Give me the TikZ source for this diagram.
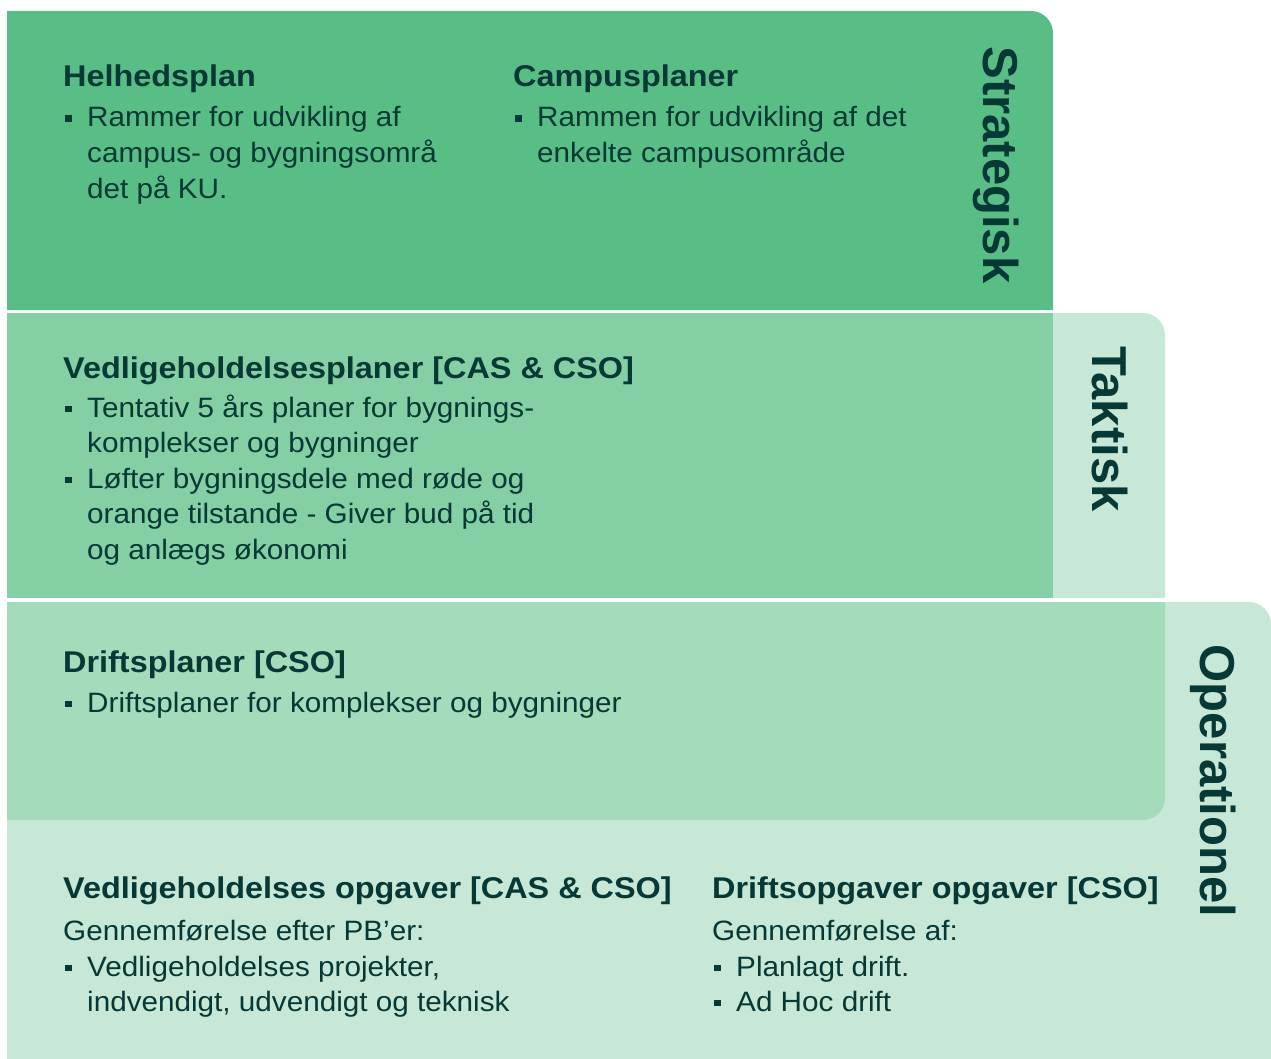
\documentclass[tikz,border=0pt]{standalone}
\usepackage{fontspec}
\setmainfont{Liberation Sans}
\newfontfamily\bodyfam{Liberation Sans}[FakeStretch=1.06]
\newfontfamily\headfam{Liberation Sans}[FakeStretch=1.08]
\definecolor{cstrat}{HTML}{59BE86}
\definecolor{ctakt}{HTML}{84CFA3}
\definecolor{cdrift}{HTML}{A3DBBB}
\definecolor{clight}{HTML}{C7E8D6}
\definecolor{ink}{HTML}{063835}
\newcommand\bul{\makebox[22pt][l]{\rule[5pt]{6.5pt}{6.5pt}}}
\tikzset{
  head/.style={anchor=base west, inner sep=0pt, text=ink, font=\headfam\bfseries\fontsize{30}{36}\selectfont},
  body/.style={anchor=base west, inner sep=0pt, text=ink, font=\bodyfam\fontsize{28}{36}\selectfont},
  side/.style={anchor=base, inner sep=0pt, rotate=-90, text=ink, font=\bfseries\fontsize{49}{56}\selectfont}
}
\begin{document}
\begin{tikzpicture}[x=1pt,y=1pt]
\useasboundingbox (0,0) rectangle (1271,-1059);
% backgrounds
\fill[clight] (7,-1059) -- (7,-602) -- (1249,-602) arc[start angle=90,end angle=0,radius=22] -- (1271,-1059) -- cycle;
\fill[clight] (1053,-598) -- (1053,-313) -- (1143,-313) arc[start angle=90,end angle=0,radius=22] -- (1165,-598) -- cycle;
\fill[ctakt] (7,-313) rectangle (1053,-598);
\fill[cstrat] (7,-310) -- (7,-11) -- (1031,-11) arc[start angle=90,end angle=0,radius=22] -- (1053,-310) -- cycle;
\fill[cdrift] (7,-602) -- (1165,-602) -- (1165,-798) arc[start angle=0,end angle=-90,radius=22] -- (7,-820) -- cycle;
% side labels
\node[side] (lstrat) at (983,-165) {Strategisk};
\node[side] (ltakt) at (1092,-429) {Taktisk};
\node[side] (lop) at (1200,-781) {Operationel};
% Strategisk
\node[head] (h1) at (63,-87) {Helhedsplan};
\node[body] (h1a) at (65,-127) {\bul Rammer for udvikling af};
\node[body] (h1b) at (87,-163) {campus- og bygningsområ};
\node[body] (h1c) at (87,-199) {det på KU.};
\node[head] (h2) at (513,-87) {Campusplaner};
\node[body] (h2a) at (515,-127) {\bul Rammen for udvikling af det};
\node[body] (h2b) at (537,-163) {enkelte campusområde};
% Taktisk
\node[head] (h3) at (63,-378) {Vedligeholdelsesplaner [CAS \& CSO]};
\node[body] (h3a) at (65,-417) {\bul Tentativ 5 års planer for bygnings-};
\node[body] (h3b) at (87,-452) {komplekser og bygninger};
\node[body] (h3c) at (65,-488) {\bul Løfter bygningsdele med røde og};
\node[body] (h3d) at (87,-523) {orange tilstande - Giver bud på tid};
\node[body] (h3e) at (87,-559) {og anlægs økonomi};
% Driftsplaner
\node[head] (h4) at (63,-672) {Driftsplaner [CSO]};
\node[body] (h4a) at (65,-712) {\bul Driftsplaner for komplekser og bygninger};
% Operationel
\node[head] (h5) at (63,-898) {Vedligeholdelses opgaver [CAS \& CSO]};
\node[body] (h5a) at (63,-940) {Gennemførelse efter PB’er:};
\node[body] (h5b) at (65,-976) {\bul Vedligeholdelses projekter,};
\node[body] (h5c) at (87,-1011) {indvendigt, udvendigt og teknisk};
\node[head] (h6) at (712,-898) {Driftsopgaver opgaver [CSO]};
\node[body] (h6a) at (712,-940) {Gennemførelse af:};
\node[body] (h6b) at (714,-976) {\bul Planlagt drift.};
\node[body] (h6c) at (714,-1011) {\bul Ad Hoc drift};
\end{tikzpicture}
\end{document}
